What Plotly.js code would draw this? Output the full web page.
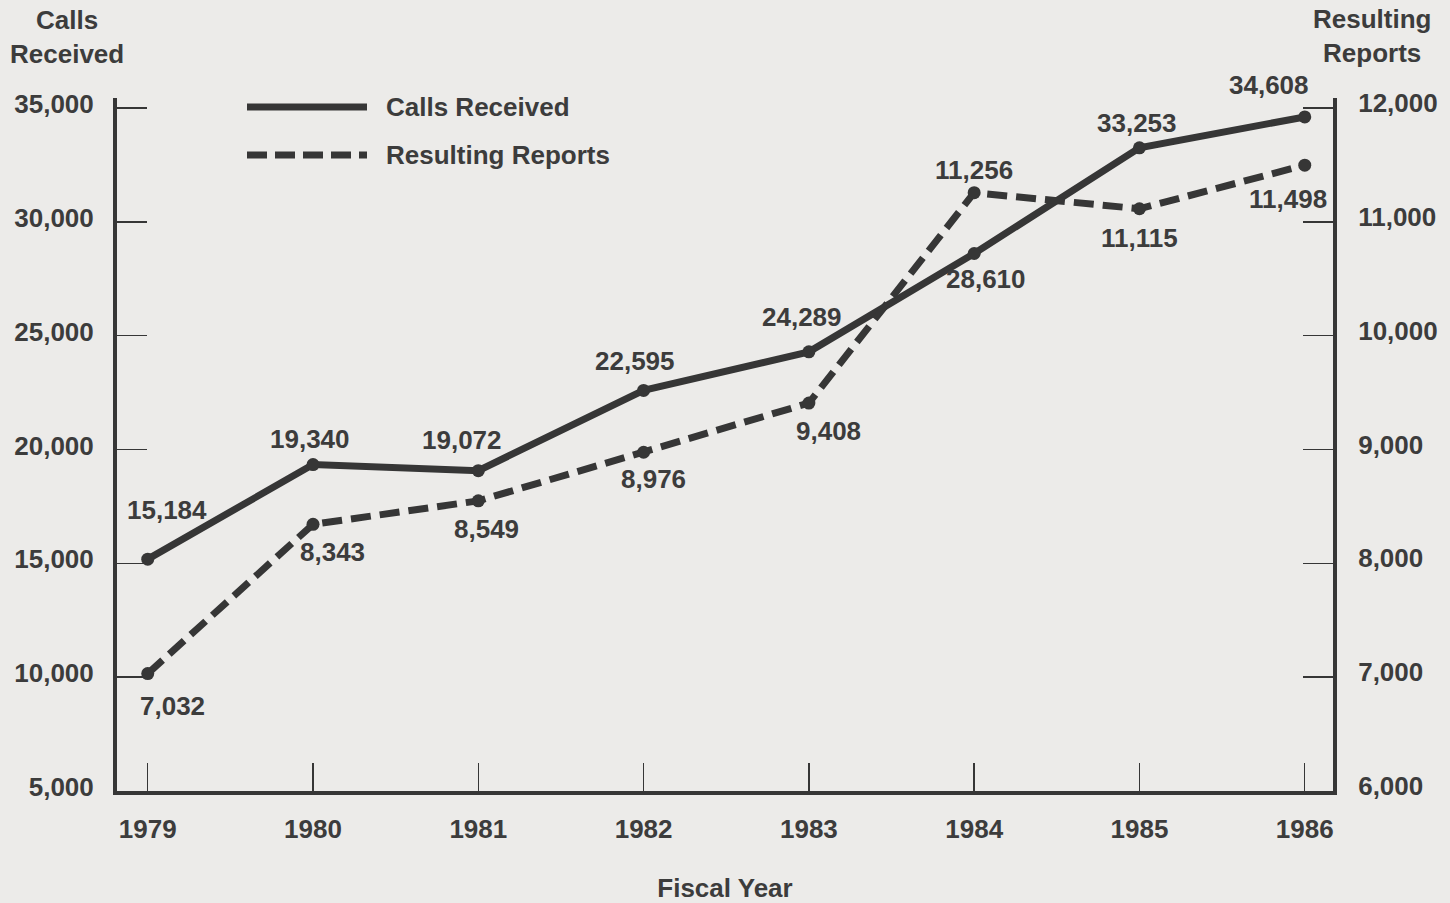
<!DOCTYPE html>
<html>
<head>
<meta charset="utf-8">
<script src="https://cdn.plot.ly/plotly-3.0.1.min.js"></script>
<style>
  html, body { margin: 0; padding: 0; background: #ecebe9; }
  #chart { width: 1450px; height: 903px; }
</style>
</head>
<body>
<div id="chart"></div>
<script>
// ---- Data ----
var years = [1979, 1980, 1981, 1982, 1983, 1984, 1985, 1986];
var callsReceived = [15184, 19340, 19072, 22595, 24289, 28610, 33253, 34608];
var resultingReports = [7032, 8343, 8549, 8976, 9408, 11256, 11115, 11498];
var leftTicks = [5000, 10000, 15000, 20000, 25000, 30000, 35000];
var rightTicks = [6000, 7000, 8000, 9000, 10000, 11000, 12000];

// ---- Label offsets (pixels, layout only) ----
var callsOffX = [19, -3, -16, -9, -7, 12, -2, -36];
var callsOffY = [49, 26, 31, 29, 35, -26, 25, 32];
var repOffX = [25, 19, 8, 10, 20, 0, 0, -17];
var repOffY = [-32, -28, -28, -27, -28, 23, -29, -34];

var W = 1450, H = 903;
var M = {l: 117, r: 117, t: 98, b: 112};
var PW = W - M.l - M.r, PH = H - M.t - M.b;
function px(x) { return (x - M.l) / PW; }
function py(y) { return (H - M.b - y) / PH; }

var ink = '#363636';
var txt = '#3c3c3c';
var fontFam = 'Liberation Sans, Arial, Helvetica, sans-serif';
var FS = 26;
function fmt(v) { return v.toLocaleString('en-US'); }
function f() { return {family: fontFam, size: FS, color: txt, weight: 'bold'}; }

var traces = [
  {
    x: years, y: callsReceived, name: 'Calls Received', type: 'scatter', mode: 'lines+markers',
    line: {color: ink, width: 7}, marker: {color: ink, size: 13}, yaxis: 'y', hoverinfo: 'skip'
  },
  {
    x: years, y: resultingReports, name: 'Resulting Reports', type: 'scatter', mode: 'lines+markers',
    line: {color: ink, width: 7, dash: '20px,9px'}, marker: {color: ink, size: 13}, yaxis: 'y2', hoverinfo: 'skip'
  }
];

var annotations = [];
years.forEach(function (yr, i) {
  annotations.push({
    x: yr, y: callsReceived[i], xref: 'x', yref: 'y', text: fmt(callsReceived[i]),
    showarrow: false, xshift: callsOffX[i], yshift: callsOffY[i], font: f()
  });
  annotations.push({
    x: yr, y: resultingReports[i], xref: 'x', yref: 'y2', text: fmt(resultingReports[i]),
    showarrow: false, xshift: repOffX[i], yshift: repOffY[i], font: f()
  });
});
// axis titles (placed at top corners)
annotations.push({
  xref: 'paper', yref: 'paper', x: px(67), y: py(37), text: 'Calls<br>Received', showarrow: false,
  xanchor: 'center', yanchor: 'middle', align: 'center', font: f()
});
annotations.push({
  xref: 'paper', yref: 'paper', x: px(1372), y: py(36), text: 'Resulting<br>Reports', showarrow: false,
  xanchor: 'center', yanchor: 'middle', align: 'center', font: f()
});
// legend labels
annotations.push({
  xref: 'paper', yref: 'paper', x: px(384), y: py(107), text: 'Calls Received', showarrow: false,
  xanchor: 'left', yanchor: 'middle', font: f()
});
annotations.push({
  xref: 'paper', yref: 'paper', x: px(384), y: py(155), text: 'Resulting Reports', showarrow: false,
  xanchor: 'left', yanchor: 'middle', font: f()
});

var shapes = [
  {type: 'line', xref: 'paper', yref: 'paper', x0: px(247), x1: px(367), y0: py(107), y1: py(107),
   line: {color: ink, width: 7}},
  {type: 'line', xref: 'paper', yref: 'paper', x0: px(247), x1: px(367), y0: py(155), y1: py(155),
   line: {color: ink, width: 7, dash: '20px,8px'}}
];

var layout = {
  width: W, height: H,
  margin: M,
  paper_bgcolor: '#ecebe9',
  plot_bgcolor: 'rgba(0,0,0,0)',
  showlegend: false,
  xaxis: {
    range: [1978.814, 1986.171],
    tickvals: years, ticktext: years.map(String),
    ticks: 'inside', ticklen: 28, tickwidth: 1.5, tickcolor: ink,
    showline: true, linewidth: 4, linecolor: ink,
    showgrid: false, zeroline: false,
    tickfont: f(), ticklabelstandoff: 12,
    title: {text: 'Fiscal Year', font: f(), standoff: 37}
  },
  yaxis: {
    range: [5000, 35440],
    tickvals: leftTicks, ticktext: leftTicks.map(fmt),
    ticks: 'inside', ticklen: 30, tickwidth: 1.5, tickcolor: ink,
    showline: true, linewidth: 4, linecolor: ink,
    showgrid: false, zeroline: false,
    tickfont: f(), ticklabelstandoff: 14, ticklabelshift: -4
  },
  yaxis2: {
    range: [6000, 12088],
    overlaying: 'y', side: 'right',
    tickvals: rightTicks, ticktext: rightTicks.map(fmt),
    ticks: 'inside', ticklen: 30, tickwidth: 1.5, tickcolor: ink,
    showline: true, linewidth: 4, linecolor: ink,
    showgrid: false, zeroline: false,
    tickfont: f(), ticklabelstandoff: 16, ticklabelshift: -5
  },
  annotations: annotations,
  shapes: shapes
};

Plotly.newPlot('chart', traces, layout, {staticPlot: true, displayModeBar: false});
</script>
</body>
</html>
